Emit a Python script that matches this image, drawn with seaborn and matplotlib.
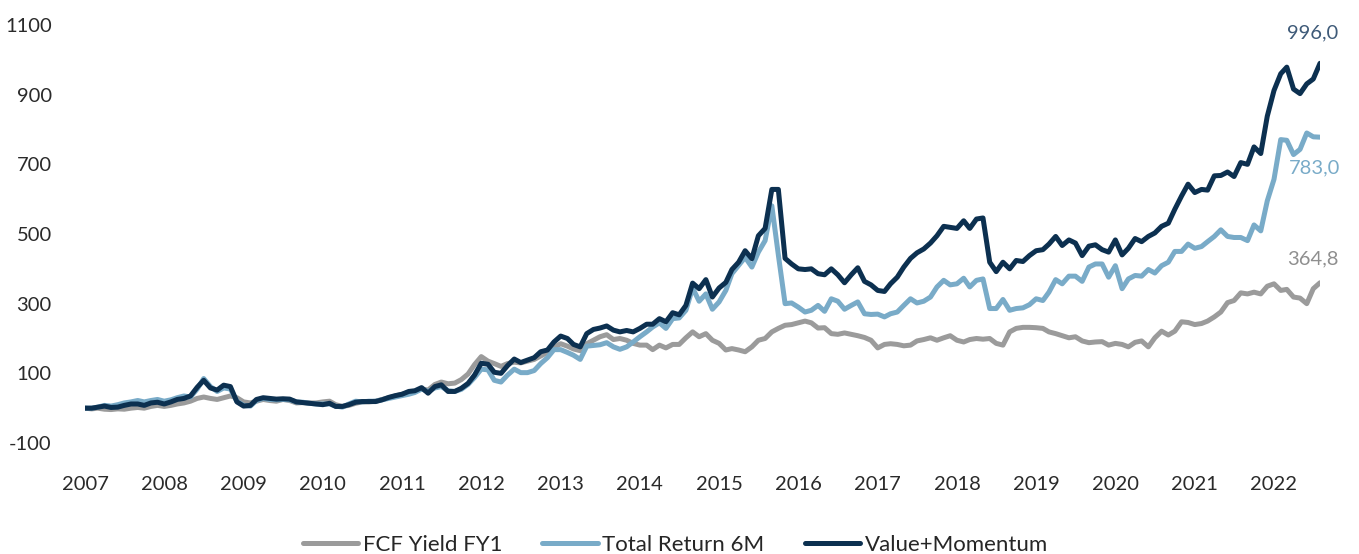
import numpy as np
import pandas as pd
import seaborn as sns
import matplotlib.pyplot as plt
import matplotlib.dates as mdates

# monthly index values, Jan 2007 - Aug 2022
value_momentum = [
    0, 0, 3, 6, 2, 3, 8, 12, 12, 8, 15, 17, 12, 18, 25, 28, 35, 60, 80, 58,
    52, 66, 62, 18, 6, 8, 25, 30, 28, 26, 27, 26, 18, 16, 14, 12, 10, 14, 5,
    5, 10, 17, 19, 19, 19, 24, 31, 36, 40, 48, 50, 59, 43, 62, 67, 48, 48, 57, 71,
    95, 129, 126, 103, 100, 122, 141, 131, 138, 145, 162, 167, 190, 207, 200, 183, 176, 214, 226, 230,
    236, 224, 219, 223, 219, 229, 241, 241, 257, 248, 274, 268, 295, 359, 343, 369, 319, 345, 361, 398,
    419, 452, 429, 495, 516, 628, 628, 430, 414, 400, 398, 400, 386,
    383, 400, 383, 360, 383, 403, 364, 354, 338, 335, 357, 376, 405, 430, 446, 457, 474, 495, 522, 519,
    516, 538, 516, 543, 546, 419, 392, 419, 400, 424, 421, 438, 452, 455, 471, 493, 467, 483, 474, 438,
    465, 469,
    455, 448, 483, 440, 459, 487, 478, 493, 503, 522, 531, 571, 609, 643, 619, 628, 626, 667, 668, 678,
    665, 705, 700, 750, 731, 838, 912, 960, 979, 916, 903, 931, 945, 990,
]
total_return_6m = [
    0, 0, 3, 8, 6, 10, 15, 18, 22, 18, 22, 25, 20, 24, 30, 35, 32, 55, 85, 62,
    48, 58, 55, 20, 8, 6, 22, 28, 25, 24, 25, 24, 18, 17, 14, 12, 12, 12, 6,
    3, 12, 20, 18, 20, 20, 24, 28, 32, 36, 40, 45, 55, 48, 58, 62, 50, 48, 54, 68,
    88, 112, 110, 80, 75, 95, 112, 102, 102, 108, 128, 145, 168, 168, 160, 152, 140, 178, 180, 182,
    188, 176, 169, 176, 190, 205, 219, 233, 245, 229, 257, 259, 281, 345, 307, 328, 284, 305, 338, 386,
    410, 433, 405, 448, 481, 581, 440, 300, 302, 290, 276, 281, 295,
    278, 314, 307, 284, 295, 305, 271, 269, 270, 262, 271, 276, 295, 314, 302, 307, 319, 348, 367, 354,
    357, 373, 348, 367, 371, 286, 286, 312, 281, 286, 288, 297, 314, 309, 333, 369, 357, 379, 379, 364,
    405, 414,
    414, 376, 409, 343, 371, 381, 379, 398, 388, 409, 419, 450, 450, 471, 459, 464, 478, 493, 512, 493,
    490, 490, 481, 526, 509, 595, 657, 771, 769, 728, 743, 790, 779, 778,
]
fcf_yield_fy1 = [
    0, -2, 0, -3, -4, -2, -3, 0, 2, 0, 5, 8, 5, 8, 12, 15, 20, 28, 32, 28,
    25, 30, 35, 30, 18, 15, 20, 25, 22, 20, 25, 22, 15, 16, 15, 15, 18, 20, 10,
    5, 8, 14, 18, 18, 20, 25, 30, 35, 40, 45, 48, 55, 52, 68, 75, 70, 72, 82, 98,
    125, 148, 135, 128, 120, 128, 132, 130, 135, 140, 150, 160, 175, 185, 178, 170, 165, 185, 195, 205,
    211, 197, 200, 195, 186, 181, 181, 168, 181, 173, 183, 183, 202, 219, 205, 214, 195, 186, 167, 171,
    167, 162, 176, 195, 200, 219, 229, 238, 240, 245, 250, 245, 230,
    231, 214, 212, 216, 212, 208, 203, 195, 173, 183, 185, 183, 179, 181, 193, 197, 202, 195, 202, 208,
    195, 190, 197, 200, 198, 200, 186, 181, 219, 229, 232, 232, 231, 229, 219, 214, 208, 202, 205, 193,
    188, 190,
    191, 181, 186, 183, 176, 189, 193, 176, 202, 221, 210, 221, 248, 246, 240, 243, 250, 262, 276, 303,
    309, 331, 328, 333, 328, 350, 357, 338, 341, 319, 316, 300, 343, 360,
]
series_names = ['FCF Yield FY1', 'Total Return 6M', 'Value+Momentum']
end_labels = ['364,8', '783,0', '996,0']
colors = ['#9b9b9b', '#79abc8', '#0c3050']
label_colors = ['#8f8f8f', '#79abc8', '#3e5a78']

dates = pd.date_range('2007-01-01', periods=len(value_momentum), freq='MS')
df = pd.DataFrame({'date': dates,
                   series_names[0]: fcf_yield_fy1,
                   series_names[1]: total_return_6m,
                   series_names[2]: value_momentum})
long = df.melt(id_vars='date', var_name='series', value_name='value')

sns.set_style('white')
plt.rcParams['font.family'] = ['Lato', 'DejaVu Sans']
plt.rcParams['axes.unicode_minus'] = False

fig = plt.figure(figsize=(13.59, 5.54), dpi=100)
ax = fig.add_axes([85 / 1359, 1 - 443 / 554, 1235 / 1359, 418 / 554])
sns.lineplot(data=long, x='date', y='value', hue='series', hue_order=series_names,
             palette=colors, linewidth=3.6, ax=ax)

ax.set_xlim(dates[0], dates[-1])
ax.set_ylim(-100, 1100)
ax.set_yticks(np.arange(-100, 1101, 200))
ax.xaxis.set_major_locator(mdates.YearLocator())
ax.xaxis.set_major_formatter(mdates.DateFormatter('%Y'))
ax.tick_params(axis='both', length=0, labelsize=14.5, labelcolor='#2a2a2a')
ax.tick_params(axis='y', pad=24)
ax.tick_params(axis='x', pad=24)
ax.set_xlabel('')
ax.set_ylabel('')
sns.despine(ax=ax, left=True, bottom=True)

# end-of-line labels
offsets = [(-5, 17), (-4, -22), (-5, 22)]
for name, lab, col, off in zip(series_names, end_labels, label_colors, offsets):
    ax.annotate(lab, xy=(dates[-1], df[name].iloc[-1]), xytext=off,
                textcoords='offset points', ha='center', va='center',
                fontsize=14.5, color=col, annotation_clip=False)

sns.move_legend(ax, 'center', bbox_to_anchor=(0.478, -0.244), ncol=3, frameon=False,
                title=None, fontsize=16, handlelength=2.5, handletextpad=0.2,
                columnspacing=1.8)
for line in ax.get_legend().get_lines():
    line.set_linewidth(3.6)

fig.savefig('out.png', dpi=100)
